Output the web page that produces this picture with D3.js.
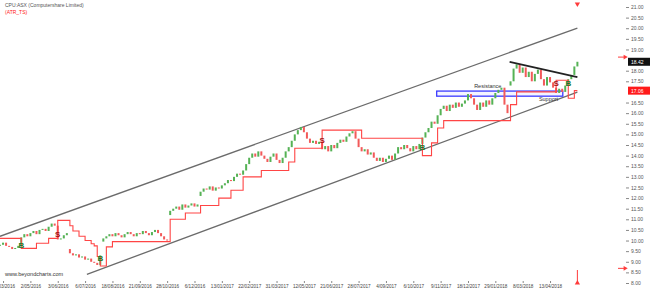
<!DOCTYPE html>
<html>
<head>
<meta charset="utf-8">
<script src="https://cdn.jsdelivr.net/npm/d3@7/dist/d3.min.js"></script>
<style>
  body { margin: 0; background: #fff; }
  svg { display: block; font-family: "Liberation Sans", Arial, sans-serif; }
</style>
</head>
<body>
<svg id="chart"></svg>
<script>
// closes, one every ~3 trading days
const closes = [
  9.8, 9.9, 9.75, 9.7, 9.6, 9.65, 9.75,
  10.15,
  10.3, 10.2, 10.35, 10.45, 10.3, 10.5, 10.55, 10.45, 10.65, 10.8, 10.7,
  10.05,
  10.1, 10.25, 10.35,
  9.4,
  9.3, 9.35, 9.2, 9.25, 9.1, 9.15, 9.0, 8.95, 8.85,
  9.3,
  10.1, 10.2,
  10.3, 10.2, 10.35, 10.25, 10.15, 10.3, 10.4, 10.3, 10.2, 10.35, 10.3, 10.45, 10.35, 10.25, 10.4, 10.5, 10.35, 10.2, 10.05, 10.0,
  11.4,
  11.5, 11.6, 11.45, 11.7, 11.55, 11.65, 11.75, 11.6, 11.7,
  12.3, 12.45, 12.4, 12.55, 12.35, 12.5, 12.45,
  12.6, 12.7, 12.85, 12.8, 13.0, 13.15, 13.1, 13.3, 13.6, 13.9,
  14.1, 13.95, 14.2, 14.0,
  13.85, 13.7, 13.95, 14.1, 13.8, 13.65, 13.9, 14.2, 14.4,
  14.7, 15.0, 15.2, 15.35,
  15.1, 14.8, 14.6, 14.7, 14.55, 14.65,
  14.3,
  14.45, 14.2, 14.5, 14.35, 14.6, 14.75, 14.65, 14.9, 15.05, 15.15,
  14.8, 14.4, 14.2, 14.3, 14.05, 14.15, 13.9,
  13.75, 13.9, 13.7, 13.85, 14.0, 13.8, 14.1, 14.4,
  14.3, 14.5, 14.35, 14.2, 14.45, 14.3, 14.55,
  14.85,
  15.1, 15.3, 15.6, 15.5, 15.9, 16.2,
  16.35, 16.1, 16.4, 16.25, 16.5, 16.3, 16.45,
  16.6, 16.9, 16.7,
  16.4, 16.15, 16.5, 16.3, 16.6, 16.4,
  16.7, 16.95, 17.1, 17.2,
  16.4, 16.0,
  17.5, 18.1, 18.3,
  17.9, 18.15, 17.7, 17.95, 17.5, 17.85, 18.05,
  17.6, 17.3, 17.7, 17.45, 17.2,
  16.95,
  17.15, 17.0, 17.3,
  17.6,
  17.8, 18.2, 18.42
];
// opens after price gaps (others open at previous close)
const gapOpens = { 23: 9.6, 34: 9.95, 56: 11.2, 66: 12.1, 168: 17.3 };

// ATR trailing stop, step line
const stopIdx = [0, 7, 12, 16, 19, 23, 24, 26, 28, 30, 31, 32, 33, 35, 37, 56, 61, 66, 72, 76, 80, 86, 95, 97, 106, 119, 139, 142, 144, 146, 168, 170, 183, 187, 189, 190];
const stopVal = [10.1, 9.63, 9.87, 10.1, 10.95, 10.7, 10.45, 10.2, 10.0, 9.85, 9.75, 9.25, 8.8, 9.7, 9.95, 11.0, 11.3, 11.65, 12.0, 12.37, 13.0, 13.3, 13.7, 14.35, 15.2, 14.82, 14.0, 14.6, 15.3, 15.65, 16.4, 17.0, 17.55, 16.7, 17.06, 17.06];

const sigIdx = [7, 19, 33, 106, 139, 183, 187];
const sigType = ["B", "S", "B", "S", "B", "S", "B"];
const sigPrice = [9.77, 10.33, 9.2, 14.73, 14.4, 17.42, 17.42];

// channel and trend lines: [index, price]
const upperChannel = [[0, 10.2], [190, 20.01]];
const lowerChannel = [[28.6, 8.41], [190, 16.99]];
const trendLine = [[167.7, 18.41], [190, 17.7]];
const resistanceZone = { i0: 143.7, i1: 185.2, lo: 16.8, hi: 17.04 };

const dateIdx = [1, 10, 19, 28, 37, 46, 55, 64, 73, 82, 91, 100, 109, 118, 127, 136, 145, 154, 163, 172, 181];
const dateLabels = ["22/03/2016", "2/05/2016", "3/06/2016", "6/07/2016", "18/08/2016", "21/09/2016", "28/10/2016",
  "6/12/2016", "13/01/2017", "22/02/2017", "31/03/2017", "12/05/2017", "21/06/2017", "28/07/2017", "4/09/2017",
  "6/10/2017", "9/11/2017", "18/12/2017", "29/01/2018", "8/03/2018", "13/04/2018"];
// 17.00 and 18.50 sit under the value boxes
const priceTicks = [8, 8.5, 9, 9.5, 10, 10.5, 11, 11.5, 12, 12.5, 13, 13.5, 14, 14.5, 15, 15.5, 16, 16.5, 17.5, 18, 19, 19.5, 20, 20.5, 21];

const lastPrice = 18.42, lastStop = 17.06, maxHigh = 18.64, minLow = 8.69;

const W = 650, H = 292;
const svg = d3.select("#chart").attr("width", W).attr("height", H);

const x = d3.scaleLinear().domain([0, 180]).range([0, 547]);
const y = d3.scaleLinear().domain([8, 21]).range([283, 7]);

// channel lines
const seg = d3.line().x(d => x(d[0])).y(d => y(d[1]));
[upperChannel, lowerChannel].forEach(c => {
  svg.append("path").attr("d", seg(c)).attr("fill", "none")
    .attr("stroke", "#6b6b6b").attr("stroke-width", 1.3);
});

// resistance zone
svg.append("rect")
  .attr("x", x(resistanceZone.i0)).attr("y", y(resistanceZone.hi))
  .attr("width", x(resistanceZone.i1) - x(resistanceZone.i0))
  .attr("height", y(resistanceZone.lo) - y(resistanceZone.hi))
  .attr("fill", "#f4f4ff").attr("stroke", "#3b3bff").attr("stroke-width", 1.3);

// candles
const bars = closes.map((c, i) => {
  const o = gapOpens[i] !== undefined ? gapOpens[i] : (i === 0 ? c : closes[i - 1]);
  return { i, o, c };
});
svg.append("g").selectAll("rect")
  .data(bars)
  .join("rect")
  .attr("x", d => x(d.i) - 1)
  .attr("width", 2)
  .attr("y", d => y(Math.max(d.o, d.c)))
  .attr("height", d => Math.max(1, Math.abs(y(d.o) - y(d.c))))
  .attr("fill", d => d.c >= d.o ? "#55b255" : "#f25a5a");

// ATR stop
const stopPts = stopIdx.map((v, k) => [v, stopVal[k]]);
svg.append("path")
  .attr("d", d3.line().x(d => x(d[0])).y(d => y(d[1])).curve(d3.curveStepAfter)(stopPts))
  .attr("fill", "none").attr("stroke", "#ff4545").attr("stroke-width", 1.1);

// trend line
svg.append("path").attr("d", seg(trendLine)).attr("fill", "none")
  .attr("stroke", "#222").attr("stroke-width", 1.8);

// signals
sigIdx.forEach((v, k) => {
  svg.append("text")
    .attr("x", x(v)).attr("y", y(sigPrice[k]) + 3)
    .attr("text-anchor", "middle")
    .attr("font-size", 8).attr("font-weight", "bold")
    .attr("fill", sigType[k] === "B" ? "#1c7a2a" : "#a01515")
    .text(sigType[k]);
});

svg.append("text").attr("x", x(160.5)).attr("y", y(17.2)).attr("text-anchor", "middle")
  .attr("font-size", 5.5).attr("fill", "#333").text("Resistance");
svg.append("text").attr("x", x(180.5)).attr("y", y(16.55)).attr("text-anchor", "middle")
  .attr("font-size", 5.5).attr("fill", "#333").text("Support");

// right axis
const yAxis = d3.axisRight(y).tickValues(priceTicks).tickFormat(d3.format(".2f")).tickSize(3).tickPadding(2);
const gy = svg.append("g").attr("transform", "translate(626,0)").call(yAxis);
gy.select(".domain").remove();
gy.selectAll("line").attr("stroke", "#888");
gy.selectAll("text").attr("font-size", 5).attr("fill", "#555").attr("font-family", "Liberation Sans, Arial");

// value boxes
[[lastPrice, "#111"], [lastStop, "#ff1a1a"]].forEach(([v, col]) => {
  svg.append("rect").attr("x", 628).attr("y", y(v) - 4).attr("width", 22).attr("height", 8).attr("fill", col);
  svg.append("text").attr("x", 631).attr("y", y(v) + 2).attr("font-size", 5).attr("fill", "#fff").text(v.toFixed(2));
});

// high / low arrows on axis
[maxHigh, minLow].forEach(v => {
  svg.append("line").attr("x1", 618).attr("x2", 624).attr("y1", y(v)).attr("y2", y(v))
    .attr("stroke", "#ff3b3b").attr("stroke-width", 1);
  svg.append("path").attr("d", d3.symbol(d3.symbolTriangle, 10)())
    .attr("transform", `translate(625,${y(v)}) rotate(90)`).attr("fill", "#ff3b3b");
});

// last bar markers
const lx = x(closes.length - 1);
svg.append("path").attr("d", d3.symbol(d3.symbolTriangle, 12)())
  .attr("transform", `translate(${lx},4) rotate(180)`).attr("fill", "#ff3b3b");
svg.append("line").attr("x1", lx).attr("x2", lx).attr("y1", 270).attr("y2", 281)
  .attr("stroke", "#ff3b3b").attr("stroke-width", 1);
svg.append("path").attr("d", d3.symbol(d3.symbolTriangle, 12)())
  .attr("transform", `translate(${lx},283)`).attr("fill", "#ff3b3b");

// bottom axis
const xAxis = d3.axisBottom(x).tickValues(dateIdx).tickFormat((d, k) => dateLabels[k]).tickSize(2).tickPadding(2);
const gx = svg.append("g").attr("transform", "translate(0,281)").call(xAxis);
gx.select(".domain").remove();
gx.selectAll("line").attr("stroke", "#888");
gx.selectAll("text").attr("font-size", 4.6).attr("fill", "#444").attr("font-family", "Liberation Sans, Arial");

// titles
svg.append("text").attr("x", 5).attr("y", 7).attr("font-size", 5).attr("fill", "#555").text("CPU:ASX (Computershare Limited)");
svg.append("text").attr("x", 5).attr("y", 14).attr("font-size", 5).attr("fill", "#ff2020").text("(ATR_TS)");
svg.append("text").attr("x", 5).attr("y", 276).attr("font-size", 5.5).attr("fill", "#333").text("www.beyondcharts.com");
</script>
</body>
</html>
